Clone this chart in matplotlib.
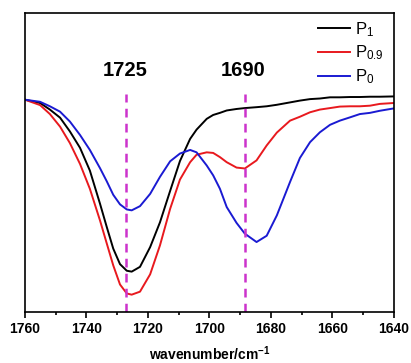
import matplotlib
matplotlib.use("Agg")
import matplotlib.pyplot as plt
from matplotlib.ticker import MultipleLocator

plt.rcParams['font.family'] = ['Liberation Sans', 'DejaVu Sans']
plt.rcParams['mathtext.default'] = 'regular'

# wavenumber (cm-1) and transmittance (arb. units, 0-100 on plot scale)
wavenumber = [1760.0, 1755.1, 1751.9, 1748.6, 1745.4, 1742.1, 1738.9, 1735.6,
              1733.4, 1731.3, 1729.1, 1726.9, 1725.3, 1722.6, 1719.3, 1716.1,
              1712.8, 1709.6, 1706.3, 1704.2, 1700.9, 1698.8, 1696.6, 1694.4,
              1691.2, 1688.5, 1684.7, 1681.4, 1678.1, 1673.8, 1670.6, 1667.3,
              1664.1, 1660.8, 1657.6, 1654.3, 1651.1, 1647.8, 1644.6, 1640.0]
p1 = [71.0, 69.9, 67.7, 65.0, 60.4, 54.9, 47.3, 36.2, 28.4, 21.2, 16.0, 13.8,
      13.5, 15.1, 21.7, 30.0, 40.5, 50.5, 57.9, 61.0, 64.6, 65.9, 66.6, 67.4,
      67.9, 68.2, 68.5, 68.8, 69.3, 70.1, 70.7, 71.2, 71.4, 71.8, 71.8, 71.9,
      71.9, 72.0, 72.0, 72.1]
p09 = [71.0, 69.2, 66.2, 62.0, 56.5, 49.5, 41.2, 30.6, 22.9, 15.6, 9.2, 6.2,
       5.8, 6.8, 12.6, 22.3, 34.5, 44.3, 50.1, 52.6, 53.4, 53.2, 51.8, 50.1,
       48.3, 48.0, 50.7, 55.7, 60.0, 64.0, 65.3, 66.8, 67.7, 68.2, 68.7, 68.8,
       68.8, 69.0, 69.6, 69.9]
p0 = [71.0, 70.3, 68.8, 67.0, 63.7, 59.2, 54.2, 48.1, 43.7, 39.2, 36.0, 34.3,
      34.0, 35.4, 39.5, 45.2, 50.4, 53.0, 54.2, 53.4, 49.0, 45.7, 41.2, 35.1,
      29.8, 26.2, 23.4, 25.5, 32.3, 43.5, 51.5, 56.8, 60.1, 62.6, 64.0, 65.1,
      66.2, 66.6, 67.3, 68.1]

peak_pos = [1727.0, 1688.5]
peak_labels = ['1725', '1690']

fig = plt.figure(figsize=(4.11, 3.63), dpi=100)
ax = fig.add_axes([0.0608, 0.1405, 0.8978, 0.8237])

ax.plot(wavenumber, p1, color='black', lw=1.4, label='$P_1$')
ax.plot(wavenumber, p09, color='#e8191e', lw=1.4, label='$P_{0.9}$')
ax.plot(wavenumber, p0, color='#1a1ad2', lw=1.4, label='$P_0$')

for pos, lab in zip(peak_pos, peak_labels):
    ax.plot([pos, pos], [0, 73], color='#cc33cc', lw=1.8, ls=(0, (3.5, 2.5)))
    ax.text(pos + 0.5, 80.7, lab, ha='center', va='center',
            fontsize=14.5, fontweight='bold')

ax.set_xlim(1760, 1640)
ax.set_ylim(0, 100)
ax.xaxis.set_major_locator(MultipleLocator(20))
ax.xaxis.set_minor_locator(MultipleLocator(10))
ax.tick_params(axis='x', which='major', direction='out', length=4, width=1.2,
               labelsize=10, pad=3)
ax.tick_params(axis='x', which='minor', direction='out', length=2.5, width=1.2)
ax.set_yticks([])
for lab in ax.get_xticklabels():
    lab.set_fontweight('bold')
for sp in ax.spines.values():
    sp.set_linewidth(1.2)

ax.set_xlabel('wavenumber/cm$^{-1}$', fontsize=10, fontweight='bold', labelpad=6)

ax.legend(loc='upper right', bbox_to_anchor=(1.0, 1.01), frameon=False,
          fontsize=12, handlelength=1.9, handletextpad=0.3, labelspacing=0.3,
          borderaxespad=0.2)

fig.savefig('out.png', dpi=100)
